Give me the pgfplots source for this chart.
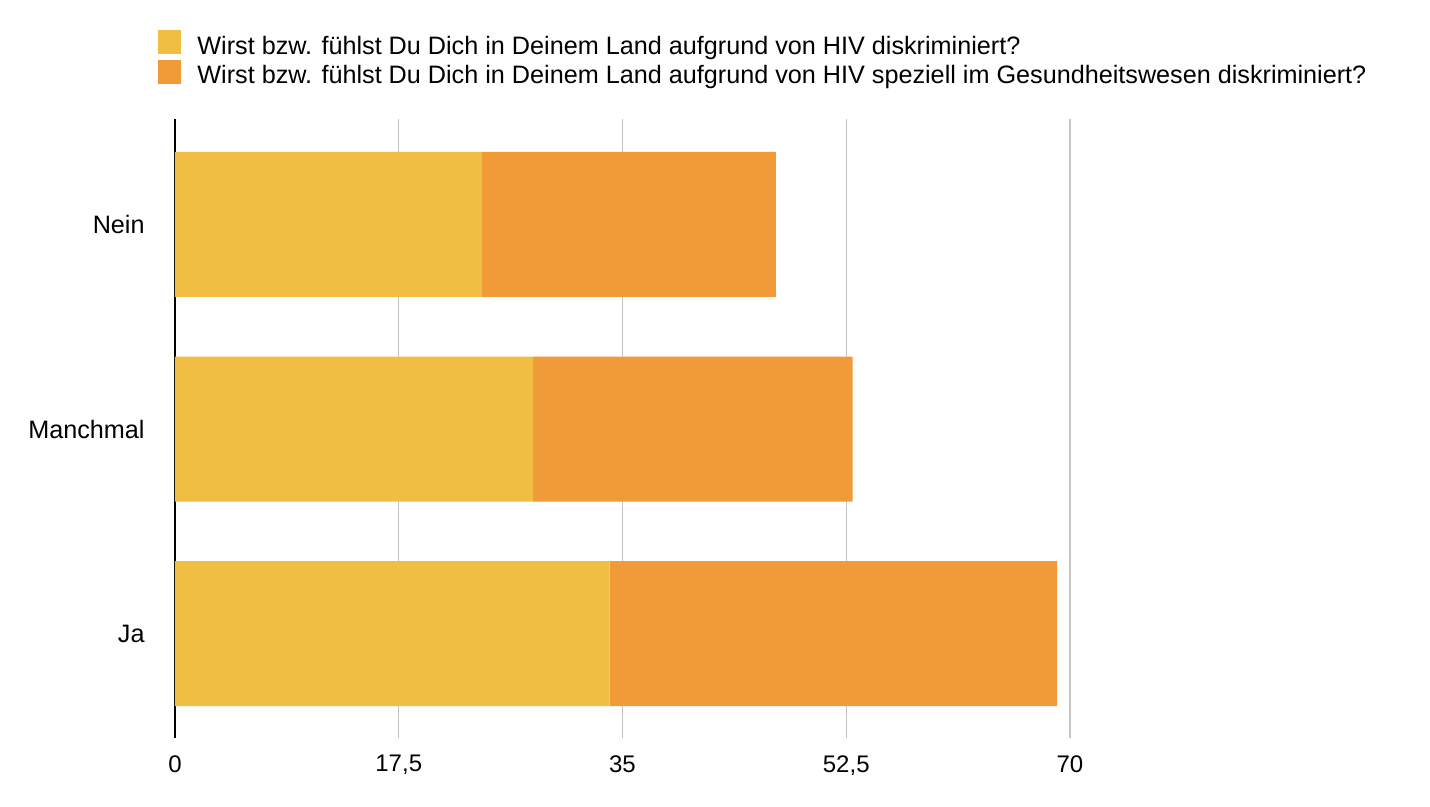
\documentclass[border=0pt]{standalone}
\usepackage{fontspec}
\setmainfont{Liberation Sans}
\usepackage{pgfplots}
\pgfplotsset{compat=1.18}
\definecolor{cYellow}{HTML}{EFBE42}
\definecolor{cOrange}{HTML}{F09A38}
\definecolor{cGrid}{HTML}{C4C4C4}

\begin{document}
\begin{tikzpicture}
% page frame in pixel halves: 1430 x 807 px -> 715 x 403.5 pt
\path[use as bounding box] (0,0) rectangle (715pt,-403.5pt);
\begin{axis}[
    at={(87.5pt,-369pt)}, anchor=south west,
    scale only axis,
    width=447.5pt, height=309.5pt,
    xbar stacked,
    bar width=72.5pt,
    xmin=0, xmax=70,
    ymin=-0.51, ymax=2.515,
    ytick={0,1,2},
    yticklabels={Ja,Manchmal,Nein},
    xtick={0,17.5,35,52.5,70},
    xticklabels={0,{17,5},35,{52,5},70},
    /pgf/number format/assume math mode=true,
    axis lines=left,
    x axis line style={draw=none,-},
    y axis line style={black,line width=1pt,-},
    major tick length=0pt,
    xmajorgrids,
    grid style={cGrid,line width=0.6pt},
    xticklabel style={font=\fontsize{12}{14}\selectfont,anchor=north,inner sep=0pt,yshift=-8.5pt},
    yticklabel style={font=\fontsize{12.6}{14}\selectfont,anchor=east,inner sep=0pt,xshift=-15pt},
    legend style={at={(axis description cs:0,1)}, anchor=north west,
        xshift=-8.5pt, yshift=44.5pt, draw=none, fill=none, inner sep=0pt,
        font=\fontsize{12.6}{14}\selectfont, row sep=1.5pt,
        nodes={inner sep=0pt}},
    legend cell align=left,
    legend image code/.code={\fill[#1] (0pt,-4pt) rectangle (11.5pt,8pt);},
    /tikz/every odd column/.append style={column sep=8pt},
]
\addplot[fill=cYellow,draw=none] coordinates {(34,0) (28,1) (24,2)};
\addlegendentry{Wirst bzw. fühlst Du Dich in Deinem Land aufgrund von HIV diskriminiert?}
\addplot[fill=cOrange,draw=none] coordinates {(35,0) (25,1) (23,2)};
\addlegendentry{Wirst bzw. fühlst Du Dich in Deinem Land aufgrund von HIV speziell im Gesundheitswesen diskriminiert?}
\end{axis}
\end{tikzpicture}
\end{document}
